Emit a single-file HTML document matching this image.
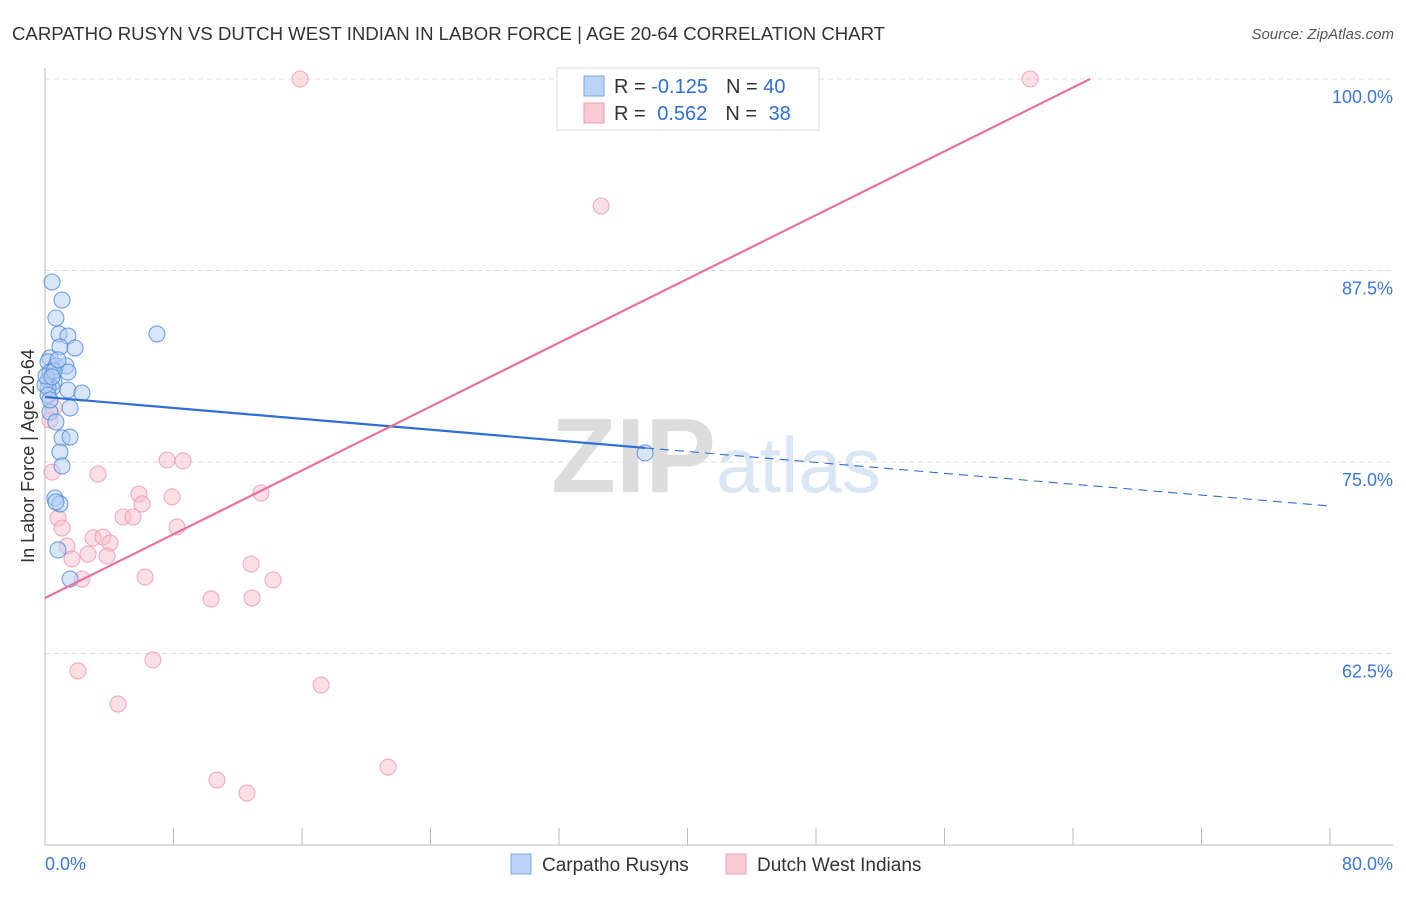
<!DOCTYPE html>
<html><head><meta charset="utf-8"><style>
body{margin:0;background:#fff;font-family:"Liberation Sans",sans-serif;}
svg text{font-family:"Liberation Sans",sans-serif;}
</style></head><body>
<svg id="chart" width="1406" height="892" viewBox="0 0 1406 892" xmlns="http://www.w3.org/2000/svg">
<text x="12" y="40" font-size="18.6" fill="#333">CARPATHO RUSYN VS DUTCH WEST INDIAN IN LABOR FORCE | AGE 20-64 CORRELATION CHART</text>
<text x="1394" y="39" font-size="15" fill="#555" text-anchor="end" font-style="italic">Source: ZipAtlas.com</text>
<g id="grid"></g>
<text x="716" y="492" font-size="106" fill="#ddd" text-anchor="end" font-family="Liberation Serif" font-weight="bold">ZIP</text>
<text x="716" y="492" font-size="78" fill="#dbe6f5">atlas</text>
<g id="marks"></g>
<text transform="translate(34,456) rotate(-90)" font-size="18" fill="#333" text-anchor="middle">In Labor Force | Age 20-64</text>
<g>
<rect x="557" y="68" width="262" height="62" fill="#fff" stroke="#ddd"/>
<rect x="584" y="76" width="20" height="20" fill="#b9d2f5" stroke="#7aa6e6"/>
<rect x="584" y="103" width="20" height="20" fill="#f9c9d6" stroke="#ee9ab3"/>
<text x="614" y="93" font-size="20" fill="#333">R = <tspan fill="#2e6fd6">-0.125</tspan><tspan dx="18">N = </tspan><tspan fill="#2e6fd6">40</tspan></text>
<text x="614" y="120" font-size="20" fill="#333">R = <tspan fill="#2e6fd6" dx="6">0.562</tspan><tspan dx="18">N = </tspan><tspan fill="#2e6fd6" dx="6">38</tspan></text>
</g>
<g>
<rect x="511" y="854" width="20" height="20" fill="#b9d2f5" stroke="#7aa6e6"/>
<text x="542" y="871" font-size="19" fill="#333">Carpatho Rusyns</text>
<rect x="726" y="854" width="20" height="20" fill="#f9c9d6" stroke="#ee9ab3"/>
<text x="757" y="871" font-size="19" fill="#333">Dutch West Indians</text>
</g>
<text x="45" y="870" font-size="18" fill="#3b78d8">0.0%</text>
<text x="1393" y="870" font-size="18" fill="#3b78d8" text-anchor="end">80.0%</text>
</svg>
<script>
const yTicks=[100,87.5,75,62.5];
const yTickLabels=["100.0%","87.5%","75.0%","62.5%"];
const xTicks=[0,8,16,24,32,40,48,56,64,72,80];
const blueX=[0.44,1.06,0.68,0.87,1.43,0.93,1.87,0.31,0.19,0.68,1.31,1.43,0.31,0.19,0.56,0.44,0.19,1.43,2.30,0,1.56,0.31,0.68,1.06,1.56,0.93,1.06,0.62,0.93,0.68,0.81,1.56,6.97,37.36,0.19,0.06,0.56,0.31,0.81,0.44];
const blueY=[86.75,85.57,84.40,83.36,83.22,82.51,82.44,81.79,81.53,81.27,81.27,80.87,80.87,80.35,80.22,79.83,79.83,79.70,79.50,80.03,78.53,78.26,77.61,76.57,76.63,75.65,74.74,72.65,72.26,72.39,69.26,67.36,83.36,75.59,79.37,80.61,80.95,79.05,81.66,80.55];
const pinkX=[15.88,61.33,34.62,3.30,7.60,8.59,0.44,5.85,7.91,13.45,0.81,6.04,4.86,5.48,1.06,8.22,1.37,2.99,3.61,4.05,2.68,3.86,1.68,2.30,6.23,12.83,14.20,10.34,12.89,2.05,6.72,17.19,4.55,10.71,12.58,21.36,0.56,0.31];
const pinkY=[100,100,91.71,74.21,75.13,75.07,74.34,72.91,72.72,72.98,71.34,72.26,71.41,71.41,70.69,70.76,69.52,70.04,70.10,69.71,68.99,68.86,68.67,67.36,67.49,68.34,67.30,66.06,66.12,61.36,62.08,60.44,59.20,54.24,53.39,55.09,78.53,77.74];
// trend lines [intercept, slope] as shown in the source chart
const blueTrend=[79.24,-0.0889];
const pinkTrend=[66.12,0.5207];
const X0=45,X1=1330,Y0=79,PXY=15.32;
const xs=v=>X0+v*(X1-X0)/80, ys=v=>Y0+(100-v)*PXY;
const NS="http://www.w3.org/2000/svg";
const grid=document.getElementById('grid'), marks=document.getElementById('marks');
function mk(tag,attrs,parent){const e=document.createElementNS(NS,tag);for(const k in attrs)e.setAttribute(k,attrs[k]);parent.appendChild(e);return e;}
yTicks.forEach((t,i)=>{
 const l=mk('line',{x1:45,x2:1393,y1:ys(t),y2:ys(t),stroke:'#ddd','stroke-dasharray':'5,4'},grid);
 
 
 const tx=mk('text',{x:1393,y:ys(t)+24,'font-size':18,fill:'#3b78d8','text-anchor':'end'},grid);
 tx.textContent=yTickLabels[i];
 
 
});
const ya=mk('line',{x1:45,x2:45,y1:68,y2:845,stroke:'#bbb'},grid);


const xa=mk('line',{x1:45,x2:1393,y1:845,y2:845,stroke:'#bbb'},grid);


xTicks.forEach(t=>{
 const l=mk('line',{x1:xs(t),x2:xs(t),y1:828,y2:845,stroke:'#bbb'},grid);
 
 
});
function dots(X,Y,fill,stroke,name){X.forEach((x,i)=>{const c=mk('circle',{cx:xs(x),cy:ys(Y[i]),r:8,fill:fill,'fill-opacity':0.5,stroke:stroke,'stroke-width':1.1,'stroke-opacity':0.8},marks);
 
 });}
dots(pinkX,pinkY,'#f7bfd0','#ee9ab3','dutch-west-indian-point');
dots(blueX,blueY,'#b3cdf3','#4f89dc','carpatho-rusyn-point');
const [ba,bb]=blueTrend;
const bmax=Math.max(...blueX);
const bl=mk('line',{x1:xs(0),y1:ys(ba),x2:xs(bmax),y2:ys(ba+bb*bmax),stroke:'#2e6fd6','stroke-width':2.2},marks);


const bd=mk('line',{x1:xs(bmax),y1:ys(ba+bb*bmax),x2:xs(80),y2:ys(ba+bb*80),stroke:'#2e6fd6','stroke-width':1.1,'stroke-dasharray':'9,6'},marks);


const [pa,pb]=pinkTrend;
const xe=Math.min(80,(100-pa)/pb);
const pl=mk('line',{x1:xs(0),y1:ys(pa),x2:xs(xe),y2:ys(pa+pb*xe),stroke:'#e8729a','stroke-width':2.2},marks);


</script>
</body></html>
